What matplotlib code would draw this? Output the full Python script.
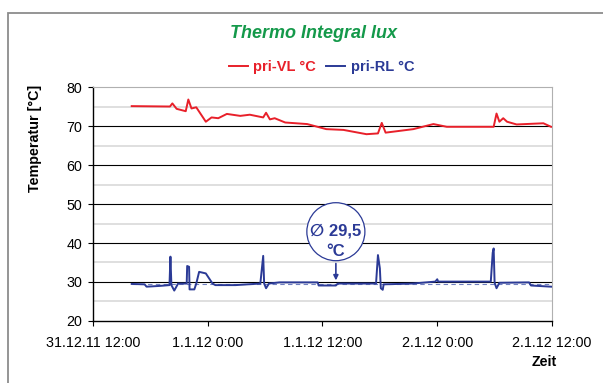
import matplotlib.pyplot as plt
import numpy as np
from matplotlib.patches import Ellipse, Rectangle

plt.rcParams['font.family'] = ['Liberation Sans', 'DejaVu Sans']

# hours since 31.12.11 12:00
vl_hours = np.array([4.05, 8.05, 8.3, 8.75, 9.7, 9.97, 10.3, 10.8, 11.8, 12.4, 13.1, 14.0,
                     15.4, 16.4, 17.8, 18.1, 18.5, 19.0, 20.1, 22.4, 24.4, 26.2, 28.6,
                     29.8, 30.2, 30.6, 33.5, 35.6, 37.0, 41.9, 42.2, 42.5, 42.9, 43.3,
                     44.3, 47.1, 47.9])
vl_temp = np.array([75.1, 75.0, 75.8, 74.4, 73.8, 76.8, 74.5, 74.8, 71.1, 72.2, 72.0, 73.1,
                    72.6, 72.9, 72.2, 73.4, 71.7, 72.0, 70.9, 70.5, 69.2, 69.0, 67.9,
                    68.1, 70.8, 68.3, 69.2, 70.5, 69.8, 69.8, 73.2, 71.1, 72.0, 71.1,
                    70.4, 70.7, 69.8])

rl_hours = np.array([4.05, 5.4, 5.6, 7.0, 8.0, 8.1, 8.2, 8.5, 8.9, 9.8, 9.85, 10.05, 10.1,
                     10.6, 10.8, 11.1, 11.8, 12.5, 12.8, 14.9, 17.5, 17.8, 17.9, 18.1,
                     18.4, 19.5, 23.5, 23.6, 25.4, 25.6, 29.6, 29.8, 30.0, 30.1, 30.3,
                     30.4, 33.4, 35.8, 36.0, 36.1, 41.6, 41.8, 41.9, 42.0, 42.2, 42.5,
                     45.6, 45.8, 47.9])
rl_temp = np.array([29.5, 29.4, 28.8, 29.0, 29.2, 36.5, 29.2, 27.8, 29.6, 29.6, 34.1, 33.9,
                    28.1, 28.1, 29.6, 32.6, 32.2, 29.6, 29.2, 29.2, 29.6, 36.7, 29.6, 28.4,
                    29.6, 29.9, 29.9, 29.1, 29.1, 29.6, 29.6, 36.9, 33.5, 28.4, 28.0,
                    29.4, 29.6, 30.1, 30.7, 30.1, 30.1, 37.5, 38.6, 29.8, 28.4, 29.8,
                    29.9, 29.1, 28.8])
rl_mean = 29.5

tick_hours = [0, 12, 24, 36, 48]
tick_labels = ['31.12.11 12:00', '1.1.12 0:00', '1.1.12 12:00', '2.1.12 0:00', '2.1.12 12:00']

red = '#e8202a'
blue = '#2b3a96'
fs = 10.3

fig = plt.figure(figsize=(6.03, 3.83), dpi=100)
ax = fig.add_axes([0.1542, 0.1619, 0.7612, 0.6109])

# outer chart frame (cut at right and bottom)
fig.patches.append(Rectangle((8 / 603, -0.05), 1.1, 1 - 13 / 383 + 0.05,
                             transform=fig.transFigure, fill=False,
                             edgecolor='#8c8c8c', linewidth=1.3))

ax.plot(vl_hours, vl_temp, color=red, linewidth=1.4, label='pri-VL °C', zorder=3)
ax.plot(rl_hours, rl_temp, color=blue, linewidth=1.4, label='pri-RL °C', zorder=3)
ax.plot([rl_hours[0], rl_hours[-1]], [rl_mean, rl_mean], color='#7080c0',
        linewidth=0.8, linestyle=(0, (4, 3)), zorder=2)

ax.set_xlim(0, 48)
ax.set_ylim(20, 80)
ax.set_yticks(np.arange(20, 81, 10))
ax.set_yticks(np.arange(25, 80, 10), minor=True)
ax.set_xticks(tick_hours)
ax.set_xticklabels(tick_labels)
for y in range(30, 80, 10):
    ax.axhline(y, color='black', linewidth=0.8, zorder=1)
for y in range(25, 80, 10):
    ax.axhline(y, color='#d9d9d9', linewidth=1.2, zorder=1)

ax.spines['top'].set_color('#b0b0b0')
ax.spines['right'].set_color('#b0b0b0')
ax.spines['left'].set_linewidth(1)
ax.spines['bottom'].set_linewidth(1)
ax.tick_params(axis='both', which='major', direction='out', length=3.6, labelsize=fs)
ax.tick_params(axis='x', pad=7.5)
ax.tick_params(axis='y', pad=4.3)
ax.tick_params(axis='y', which='minor', length=0)

ax.set_ylabel('Temperatur [°C]', fontsize=fs, fontweight='bold')
ax.yaxis.set_label_coords(-0.111, 0.782)
fig.text(556.7 / 603, 1 - 362 / 383, 'Zeit', fontsize=fs, fontweight='bold',
         ha='right', va='center')

fig.text(313.5 / 603, 1 - 33.3 / 383, 'Thermo Integral lux', color='#14994a', fontsize=13,
         fontweight='bold', fontstyle='italic', ha='center', va='center')
fig.legend(loc='center', bbox_to_anchor=(321.7 / 603, 1 - 66.7 / 383), ncol=2, frameon=False,
           labelcolor='linecolor', prop={'weight': 'bold', 'size': 10.5},
           handlelength=1.3, handletextpad=0.4, columnspacing=0.7)

# mean annotation
cx, cy = 25.4, 42.9
ax.add_patch(Ellipse((cx, cy), 6.07, 14.87, facecolor='white', edgecolor=blue,
                     linewidth=0.9, zorder=4))
ax.text(cx, 43.15, '∅ 29,5', color=blue, fontsize=12, fontweight='bold',
        ha='center', va='center', zorder=5)
ax.text(cx, 37.8, '°C', color=blue, fontsize=12, fontweight='bold',
        ha='center', va='center', zorder=5)
ax.annotate('', xy=(cx, rl_mean + 0.2), xytext=(cx, cy - 7.45),
            arrowprops=dict(arrowstyle='-|>', color=blue, lw=1.2, mutation_scale=7), zorder=5)

fig.savefig('out.png', dpi=100)
